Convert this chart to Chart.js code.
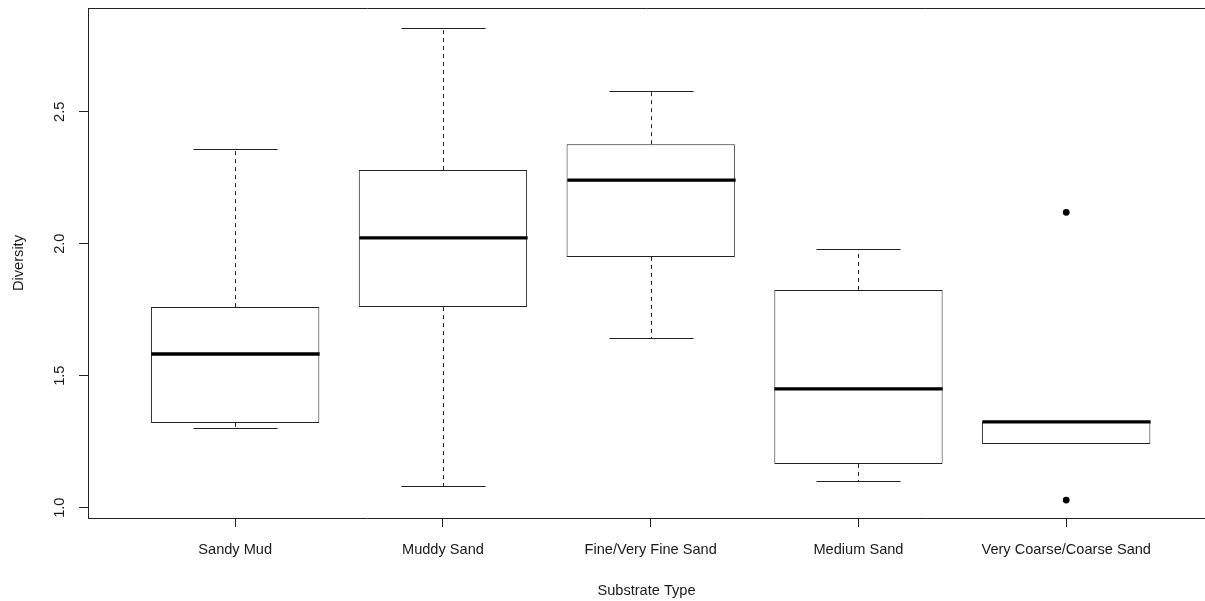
<!DOCTYPE html>
<html>
<head>
<meta charset="utf-8">
<script src="https://cdn.jsdelivr.net/npm/chart.js@4/dist/chart.umd.min.js"></script>
<style>
  html, body { margin: 0; padding: 0; background: #fff; }
  #wrap { width: 1205px; height: 601px; }
</style>
</head>
<body>
<div id="wrap"><canvas id="c" width="1205" height="601"></canvas></div>
<script>
// ---- data ----
const categories = ['Sandy Mud', 'Muddy Sand', 'Fine/Very Fine Sand', 'Medium Sand', 'Very Coarse/Coarse Sand'];
const whiskerLow  = [1.302, 1.082, 1.643, 1.101, 1.241];
const q1          = [1.321, 1.760, 1.950, 1.166, 1.241];
const medians     = [1.582, 2.022, 2.241, 1.450, 1.325];
const q3          = [1.760, 2.279, 2.377, 1.825, 1.325];
const whiskerHigh = [2.359, 2.817, 2.578, 1.980, 1.325];
const outlierGroup = [5, 5];
const outlierValue = [2.119, 1.029];
const yTicks = [1.0, 1.5, 2.0, 2.5];
const yLimits = [0.961, 2.893];
const xLimits = [0.2915, 5.668];
const xTitle = 'Substrate Type';
const yTitle = 'Diversity';

const FAMILY = '"Liberation Sans", Arial, sans-serif';
const FSIZE = 14.6;
const INK = '#1a1a1a';
const LINE = '#222';

const boxData = categories.map((c, i) => ({ x: i + 1, y: [q1[i], q3[i]] }));
const outlierData = outlierGroup.map((g, i) => ({ x: g, y: outlierValue[i] }));

const boxParts = {
  id: 'boxParts',
  afterDatasetsDraw(chart) {
    const ctx = chart.ctx;
    const xs = chart.scales.x, ys = chart.scales.y;
    const meta = chart.getDatasetMeta(0);
    ctx.save();
    categories.forEach((c, i) => {
      const px = Math.round(xs.getPixelForValue(i + 1)) + 0.5;
      const half = meta.data[i].width / 2;
      const yLo = ys.getPixelForValue(whiskerLow[i]);
      const yQ1 = ys.getPixelForValue(q1[i]);
      const yQ3 = ys.getPixelForValue(q3[i]);
      const yHi = ys.getPixelForValue(whiskerHigh[i]);
      const yMed = ys.getPixelForValue(medians[i]);
      ctx.strokeStyle = LINE;
      ctx.lineWidth = 1;
      ctx.setLineDash([4, 4]);
      ctx.beginPath();
      if (whiskerHigh[i] > q3[i]) { ctx.moveTo(px, yQ3); ctx.lineTo(px, yHi); }
      if (whiskerLow[i] < q1[i]) { ctx.moveTo(px, yQ1); ctx.lineTo(px, yLo); }
      ctx.stroke();
      ctx.setLineDash([]);
      ctx.beginPath();
      if (whiskerHigh[i] > q3[i]) {
        ctx.moveTo(px - half / 2, Math.round(yHi) + 0.5); ctx.lineTo(px + half / 2, Math.round(yHi) + 0.5);
      }
      if (whiskerLow[i] < q1[i]) {
        ctx.moveTo(px - half / 2, Math.round(yLo) + 0.5); ctx.lineTo(px + half / 2, Math.round(yLo) + 0.5);
      }
      ctx.stroke();
      ctx.strokeStyle = '#000';
      ctx.lineWidth = 3.4;
      ctx.lineCap = 'butt';
      ctx.beginPath();
      ctx.moveTo(px - half, yMed); ctx.lineTo(px + half, yMed);
      ctx.stroke();
    });
    const a = chart.chartArea;
    ctx.strokeStyle = LINE;
    ctx.lineWidth = 1;
    ctx.beginPath();
    ctx.moveTo(a.left, a.top + 0.5); ctx.lineTo(a.right, a.top + 0.5);
    ctx.stroke();
    ctx.restore();
  }
};

new Chart(document.getElementById('c'), {
  data: {
    datasets: [
      {
        type: 'bar',
        data: boxData,
        backgroundColor: '#fff',
        borderColor: LINE,
        borderWidth: 1,
        borderSkipped: false,
        inflateAmount: 0,
        barPercentage: 0.81,
        categoryPercentage: 1.0,
        order: 2
      },
      {
        type: 'scatter',
        data: outlierData,
        backgroundColor: '#000',
        borderColor: '#000',
        pointRadius: 3.4,
        borderWidth: 0,
        order: 1
      }
    ]
  },
  options: {
    responsive: false,
    animation: false,
    events: [],
    layout: { autoPadding: false, padding: { top: 8, left: 0, right: 0, bottom: 0 } },
    plugins: { legend: { display: false }, tooltip: { enabled: false } },
    scales: {
      x: {
        type: 'linear',
        offset: false,
        min: xLimits[0],
        max: xLimits[1],
        afterBuildTicks: s => { s.ticks = categories.map((c, i) => ({ value: i + 1 })); },
        afterFit: s => { s.height = 83; s.paddingLeft = 0; s.paddingRight = 0; },
        ticks: {
          autoSkip: false, maxRotation: 0, minRotation: 0,
          padding: 14, color: INK,
          font: { family: FAMILY, size: FSIZE },
          callback: v => categories[v - 1]
        },
        grid: { offset: false, drawOnChartArea: false, drawTicks: true, tickLength: 9, color: LINE, tickColor: LINE },
        border: { display: true, color: LINE, width: 1 },
        title: {
          display: true, text: xTitle, color: INK,
          font: { family: FAMILY, size: FSIZE, lineHeight: '20px' }, padding: 0
        }
      },
      y: {
        type: 'linear',
        min: yLimits[0],
        max: yLimits[1],
        afterBuildTicks: s => { s.ticks = yTicks.map(v => ({ value: v })); },
        afterFit: s => { s.width = 88; s.paddingTop = 0; s.paddingBottom = 0; },
        ticks: {
          minRotation: 90, maxRotation: 90, crossAlign: 'center',
          padding: 9, color: INK,
          font: { family: FAMILY, size: FSIZE },
          callback: v => v.toFixed(1)
        },
        grid: { drawOnChartArea: false, drawTicks: true, tickLength: 9, color: LINE, tickColor: LINE },
        border: { display: true, color: LINE, width: 1 },
        title: {
          display: true, text: yTitle, color: INK,
          font: { family: FAMILY, size: FSIZE, lineHeight: '38px' }, padding: 0
        }
      }
    }
  },
  plugins: [boxParts]
});
</script>
</body>
</html>
